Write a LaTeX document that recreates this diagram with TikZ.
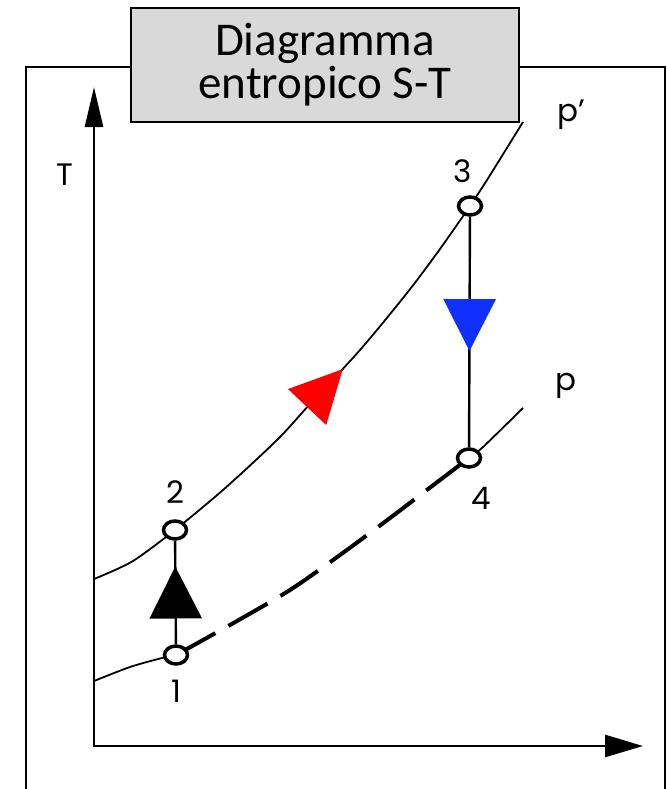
\documentclass[tikz,border=0pt]{standalone}
\usepackage{fontspec}
\setmainfont{Carlito}
\newfontfamily\lblfont{Poppins}
\usepackage{tikz}
\usetikzlibrary{arrows.meta,positioning,shapes.geometric,calc,decorations.markings}
\definecolor{titlegray}{RGB}{217,217,217}
\definecolor{flowred}{RGB}{255,0,0}
\definecolor{flowblue}{RGB}{16,48,255}
\tikzset{
  frame/.style    ={draw=black, line width=1.8pt},
  titlebox/.style ={rectangle, draw=black, line width=1.6pt, fill=titlegray,
                    align=center, minimum width=388pt, minimum height=114pt,
                    font=\fontsize{47}{43}\selectfont},
  axis/.style     ={line width=2.6pt,
                    {Triangle[length=40pt,width=18pt]}-{Triangle[length=38pt,width=22pt]}},
  curve/.style    ={line width=1.8pt},
  proc/.style     ={line width=2.4pt},
  isobar/.style   ={line width=4pt, dash pattern=on 45pt off 15pt},
  state/.style    ={ellipse, draw=black, line width=3.5pt, fill=white,
                    minimum width=23pt, minimum height=18pt, inner sep=0pt},
  lbl/.style      ={font=\lblfont\fontsize{31}{31}\selectfont, inner sep=0pt},
  midtri/.style 2 args={postaction={decorate}, decoration={markings,
                    mark=at position #2 with {\arrow[#1,xshift=26pt]{Triangle[length=52pt,width=52pt]}}}},
}
\begin{document}
\begin{tikzpicture}[x=1pt,y=-1pt]
    \useasboundingbox (0,0) rectangle (667,789);

    % frame and title
    \draw[frame] (26,789) -- (26,67) -- (665,67) -- (665,789);
    \node[titlebox] (title) at (325,65) {Diagramma\\entropico S-T};

    % axes
    \coordinate (o) at (94,746);
    \coordinate (ytip) at (94,87);
    \coordinate (xtip) at (643,746);
    \draw[axis] (ytip) -- (o) -- (xtip);
    \node[lbl] (tlab) at (65,175) {T};

    % states
    \coordinate (s1) at (176,655);
    \coordinate (s2) at (175,530);
    \coordinate (s3) at (470,206);
    \coordinate (s4) at (469,458);

    % isobar p'
    \draw[curve] plot[smooth, tension=0.5] coordinates {(94,579) (133,561) (s2)};
    \draw[curve, midtri={flowred}{0.47}] plot[smooth, tension=0.5]
       coordinates {(s2) (223,490) (277,440) (310,404) (360,350) (407,293) (440,249) (s3)};
    \draw[curve] plot[smooth, tension=0.5] coordinates {(s3) (487,180) (523,122)};
    \node[lbl] (pplab) at (571,115) {p’};

    % isobar p
    \draw[curve] plot[smooth, tension=0.5] coordinates {(94,681) (130,667) (162,658) (s1)};
    \draw[isobar] plot[smooth, tension=0.5]
       coordinates {(s1) (237,621) (290,590) (340,555) (390,518) (440,480) (s4)};
    \draw[curve] plot[smooth, tension=0.5] coordinates {(s4) (483,447) (523,408)};
    \node[lbl] (plab) at (566,386) {p};

    % processes
    \node[state] (n1) at (s1) {};
    \node[state] (n2) at (s2) {};
    \node[state] (n3) at (s3) {};
    \node[state] (n4) at (s4) {};
    \draw[proc, midtri={black}{0.5}] (n1) -- (n2);
    \draw[proc, midtri={flowblue}{0.47}] (n3) -- (n4);

    % state labels
    \node[lbl, below=14pt of n1] (t1) {1};
    \node[lbl, above=16pt of n2] (t2) {2};
    \node[lbl, above=12pt of n3, xshift=-7pt] (t3) {3};
    \node[lbl, below=18pt of n4, xshift=12pt] (t4) {4};
\end{tikzpicture}
\end{document}
